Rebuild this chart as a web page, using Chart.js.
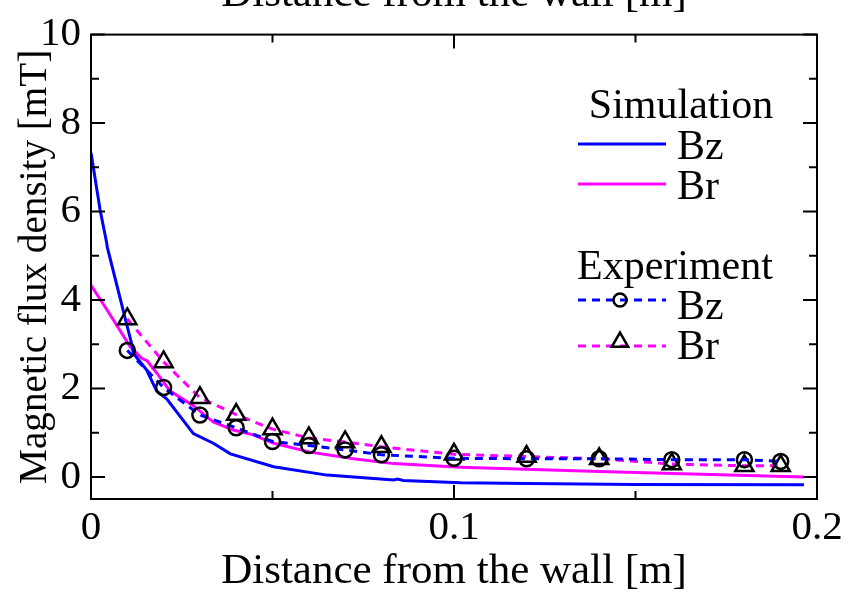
<!DOCTYPE html>
<html>
<head>
<meta charset="utf-8">
<script src="https://cdn.jsdelivr.net/npm/chart.js@4.4.1/dist/chart.umd.min.js"></script>
<style>
  html, body { margin: 0; padding: 0; background: #ffffff; }
  #wrap { width: 860px; height: 595px; }
</style>
</head>
<body>
<div id="wrap"><canvas id="chart" width="860" height="595"></canvas></div>
<script>
// Simulated field along the distance from the wall
const simBzX = [0, 0.0025, 0.0043, 0.0045, 0.008, 0.0098, 0.0112, 0.0117, 0.0153, 0.0181, 0.0209, 0.0282, 0.0337, 0.0384, 0.0503, 0.065, 0.0834, 0.0845, 0.086, 0.1018, 0.12, 0.15, 0.1964];
const simBzY = [7.33, 6.04, 5.30, 5.19, 4.05, 3.46, 3.01, 2.79, 2.42, 1.94, 1.76, 0.98, 0.76, 0.52, 0.23, 0.04, -0.07, -0.05, -0.08, -0.13, -0.15, -0.17, -0.18];
const simBrX = [0, 0.0043, 0.008, 0.0108, 0.014, 0.0155, 0.0181, 0.0218, 0.0282, 0.0337, 0.0392, 0.0447, 0.0503, 0.0604, 0.0723, 0.0834, 0.1018, 0.14, 0.1964];
const simBrY = [4.33, 3.79, 3.31, 2.94, 2.68, 2.62, 2.35, 1.94, 1.61, 1.24, 1.06, 0.95, 0.76, 0.56, 0.41, 0.30, 0.22, 0.12, 0.0];

// Measured field
const expX  = [0.01, 0.02, 0.03, 0.04, 0.05, 0.06, 0.07, 0.08, 0.10, 0.12, 0.14, 0.16, 0.18, 0.19];
const expBz = [2.86, 2.02, 1.40, 1.11, 0.80, 0.71, 0.61, 0.50, 0.42, 0.41, 0.41, 0.39, 0.39, 0.35];
const expBr = [3.57, 2.60, 1.79, 1.41, 1.08, 0.88, 0.79, 0.68, 0.51, 0.46, 0.41, 0.29, 0.25, 0.25];

// Axis ticks
const xTickVals = [0, 0.1, 0.2];
const xMinorVals = [0.05, 0.15];
const yTickVals = [0, 2, 4, 6, 8, 10];
const yMinorVals = [1, 3, 5, 7, 9];

const BLUE = '#0000ff';
const MAGENTA = '#ff00ff';
const SERIF = '"Liberation Serif", "Times New Roman", serif';
const DASH = [8, 6];

const pts = (xs, ys) => xs.map((x, i) => ({ x: x, y: ys[i] }));

// Frame box with inward ticks on all four sides
const frameTicks = {
  id: 'frameTicks',
  afterDatasetsDraw(chart) {
    const { ctx, chartArea: a, scales: { x, y } } = chart;
    ctx.save();
    ctx.strokeStyle = '#000';
    ctx.lineWidth = 2;
    ctx.lineCap = 'butt';
    ctx.strokeRect(a.left, a.top, a.right - a.left, a.bottom - a.top);
    const major = 14, minor = 8;
    ctx.beginPath();
    const vx = (v, len) => {
      const p = x.getPixelForValue(v);
      ctx.moveTo(p, a.bottom); ctx.lineTo(p, a.bottom - len);
      ctx.moveTo(p, a.top); ctx.lineTo(p, a.top + len);
    };
    const vy = (v, len) => {
      const p = y.getPixelForValue(v);
      ctx.moveTo(a.left, p); ctx.lineTo(a.left + len, p);
      ctx.moveTo(a.right, p); ctx.lineTo(a.right - len, p);
    };
    xTickVals.forEach(v => vx(v, major));
    xMinorVals.forEach(v => vx(v, minor));
    yTickVals.forEach(v => vy(v, major));
    yMinorVals.forEach(v => vy(v, minor));
    ctx.stroke();

    // mirrored axis title above the frame
    ctx.font = '43px ' + SERIF;
    ctx.fillStyle = '#000';
    ctx.textAlign = 'center';
    ctx.textBaseline = 'alphabetic';
    ctx.fillText('Distance from the wall [m]', (a.left + a.right) / 2, 6);
    ctx.restore();
  }
};

// Grouped legend: Simulation / Experiment
const groupedLegend = {
  id: 'groupedLegend',
  afterDraw(chart) {
    const { ctx } = chart;
    const ds = chart.data.datasets;
    ctx.save();
    ctx.font = '42px ' + SERIF;
    ctx.fillStyle = '#000';
    ctx.textBaseline = 'alphabetic';
    ctx.textAlign = 'center';
    ctx.fillText('Simulation', 681, 118);
    ctx.textAlign = 'left';
    ctx.fillText('Experiment', 577, 279);

    const rows = [
      { d: ds[2], y: 144, label: 'Bz', base: 159 },
      { d: ds[3], y: 184, label: 'Br', base: 199 },
      { d: ds[0], y: 300, label: 'Bz', base: 319 },
      { d: ds[1], y: 346, label: 'Br', base: 359, my: 342 }
    ];
    rows.forEach(r => {
      ctx.save();
      ctx.strokeStyle = r.d.borderColor;
      ctx.lineWidth = r.d.borderWidth;
      ctx.setLineDash(r.d.borderDash || []);
      ctx.beginPath();
      ctx.moveTo(578, r.y); ctx.lineTo(666, r.y);
      ctx.stroke();
      ctx.restore();
      if (r.d.pointRadius > 0) {
        ctx.save();
        ctx.strokeStyle = r.d.pointBorderColor;
        ctx.fillStyle = 'rgba(0,0,0,0)';
        ctx.lineWidth = r.d.pointBorderWidth;
        Chart.helpers.drawPoint(ctx, {
          pointStyle: r.d.pointStyle, radius: r.d.pointRadius - 1, rotation: 0,
          borderWidth: r.d.pointBorderWidth
        }, 620, r.my || r.y);
        ctx.restore();
      }
      ctx.fillStyle = '#000';
      ctx.fillText(r.label, 677, r.base);
    });
    ctx.restore();
  }
};

new Chart(document.getElementById('chart'), {
  type: 'scatter',
  data: {
    datasets: [
      {
        label: 'Experiment Bz', data: pts(expX, expBz), showLine: true,
        borderColor: BLUE, borderWidth: 3, borderDash: DASH,
        pointStyle: 'circle', pointRadius: 7.5, pointBorderWidth: 2.5,
        pointBorderColor: '#000', pointBackgroundColor: 'rgba(0,0,0,0)'
      },
      {
        label: 'Experiment Br', data: pts(expX, expBr), showLine: true,
        borderColor: MAGENTA, borderWidth: 3, borderDash: DASH,
        pointStyle: 'triangle', pointRadius: 10.5, pointBorderWidth: 2.5,
        pointBorderColor: '#000', pointBackgroundColor: 'rgba(0,0,0,0)'
      },
      {
        label: 'Simulation Bz', data: pts(simBzX, simBzY), showLine: true,
        borderColor: BLUE, borderWidth: 3, pointRadius: 0, tension: 0
      },
      {
        label: 'Simulation Br', data: pts(simBrX, simBrY), showLine: true,
        borderColor: MAGENTA, borderWidth: 3, pointRadius: 0, tension: 0
      }
    ]
  },
  options: {
    responsive: false,
    animation: false,
    devicePixelRatio: 1,
    layout: { padding: { top: 24, right: 43, bottom: 0, left: 0 } },
    plugins: { legend: { display: false }, tooltip: { enabled: false } },
    elements: { point: { hoverRadius: 7.5 } },
    scales: {
      x: {
        type: 'linear', min: 0, max: 0.2,
        grid: { display: false, drawTicks: false },
        border: { display: false },
        afterBuildTicks: s => { s.ticks = xTickVals.map(v => ({ value: v })); },
        afterFit: s => { s.height = 96; },
        ticks: {
          padding: 5, color: '#000', maxRotation: 0,
          font: { family: SERIF, size: 41 },
          callback: v => String(v)
        },
        title: {
          display: true, text: 'Distance from the wall [m]', color: '#000',
          font: { family: SERIF, size: 43, lineHeight: 1.1 },
          padding: { top: 0, bottom: 0 }
        }
      },
      y: {
        type: 'linear', min: -0.5, max: 10,
        grid: { display: false, drawTicks: false },
        border: { display: false },
        afterBuildTicks: s => { s.ticks = yTickVals.map(v => ({ value: v })); },
        afterFit: s => { s.width = 91; },
        ticks: {
          padding: 10, color: '#000',
          font: { family: SERIF, size: 41 },
          callback: v => String(v)
        },
        title: {
          display: true, text: 'Magnetic flux density [mT]', color: '#000',
          font: { family: SERIF, size: 39.2, lineHeight: 1.2 },
          padding: { top: 12, bottom: 0 }
        }
      }
    }
  },
  plugins: [frameTicks, groupedLegend]
});
</script>
</body>
</html>
